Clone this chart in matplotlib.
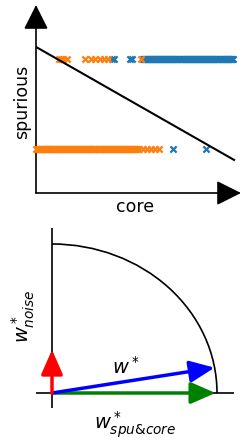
import matplotlib
matplotlib.use("Agg")
import matplotlib.pyplot as plt
from matplotlib.patches import Arc

BLUE = "#1f77b4"
ORANGE = "#ff7f0e"

# ---- data (top panel): core feature value, spurious feature value ----
top_orange_core = [0.11, 0.12, 0.13, 0.15, 0.24, 0.27, 0.29, 0.31, 0.33, 0.35, 0.51]
top_blue_core = [0.37, 0.38, 0.46, 0.47, 0.52, 0.525, 0.53, 0.535, 0.54, 0.545, 0.55,
                 0.555, 0.56, 0.565, 0.57, 0.575, 0.58, 0.585, 0.59, 0.595, 0.60, 0.605,
                 0.61, 0.615, 0.62, 0.625, 0.63, 0.635, 0.64, 0.645, 0.65, 0.655, 0.66,
                 0.665, 0.67, 0.675, 0.68, 0.685, 0.69, 0.695, 0.70, 0.705, 0.71, 0.715,
                 0.72, 0.725, 0.73, 0.735, 0.74, 0.745, 0.75, 0.755, 0.76, 0.765, 0.77,
                 0.775, 0.78, 0.785, 0.79, 0.795, 0.80, 0.805, 0.81, 0.815, 0.82, 0.825,
                 0.83, 0.835, 0.84, 0.845, 0.85, 0.855, 0.86, 0.865, 0.87, 0.875, 0.88,
                 0.885, 0.89, 0.895, 0.90, 0.905, 0.91, 0.915, 0.92, 0.925, 0.93, 0.935,
                 0.94, 0.945, 0.95, 0.955, 0.96]
bot_orange_core = [0.00, 0.005, 0.01, 0.015, 0.02, 0.025, 0.03, 0.035, 0.04, 0.045, 0.05,
                   0.055, 0.06, 0.065, 0.07, 0.075, 0.08, 0.085, 0.09, 0.095, 0.10, 0.105,
                   0.11, 0.115, 0.12, 0.125, 0.13, 0.135, 0.14, 0.145, 0.15, 0.155, 0.16,
                   0.165, 0.17, 0.175, 0.18, 0.185, 0.19, 0.195, 0.20, 0.205, 0.21, 0.215,
                   0.22, 0.225, 0.23, 0.235, 0.24, 0.245, 0.25, 0.255, 0.26, 0.265, 0.27,
                   0.275, 0.28, 0.285, 0.29, 0.295, 0.30, 0.305, 0.31, 0.315, 0.32, 0.325,
                   0.33, 0.335, 0.34, 0.345, 0.35, 0.355, 0.36, 0.365, 0.37, 0.375, 0.38,
                   0.385, 0.39, 0.395, 0.40, 0.405, 0.41, 0.415, 0.42, 0.425, 0.43, 0.435,
                   0.44, 0.445, 0.45, 0.455, 0.46, 0.465, 0.47, 0.475, 0.48, 0.485, 0.49,
                   0.495, 0.50, 0.52, 0.54, 0.56, 0.58, 0.60]
bot_blue_core = [0.67, 0.83]
spurious_high = 0.713
spurious_low = 0.234
boundary_x = [0.0, 0.966]
boundary_y = [0.777, 0.176]

# ---- data (bottom panel): weight vectors ----
w_noise = (0.0, 0.29)
w_star = (0.985, 0.17)
w_spu_core = (0.99, 0.0)

W, H = 249, 447
fig = plt.figure(figsize=(W / 100, H / 100), dpi=100)

def px_axes(x0, x1, ytop, ybot):
    return fig.add_axes([x0 / W, 1 - ybot / H, (x1 - x0) / W, (ybot - ytop) / H])

# ---------------- top panel ----------------
ax = px_axes(36, 241, 5, 193)
ax.set_xlim(0, 1)
ax.set_ylim(0, 1)
ax.axis("off")
for xy in [(0, 1), (1, 0)]:
    ax.annotate("", xy=xy, xytext=(0, 0), xycoords="data",
                arrowprops=dict(arrowstyle="-|>,head_length=0.8,head_width=0.4",
                                mutation_scale=19, lw=1.2, color="black",
                                shrinkA=0, shrinkB=0), annotation_clip=False)
mk = dict(marker="x", s=20, lw=1.6, clip_on=False)
ax.scatter(bot_orange_core, [spurious_low] * len(bot_orange_core), color=ORANGE, zorder=3, **mk)
ax.scatter(top_blue_core, [spurious_high] * len(top_blue_core), color=BLUE, zorder=3, **mk)
ax.scatter(bot_blue_core, [spurious_low] * len(bot_blue_core), color=BLUE, zorder=3, **mk)
ax.scatter(top_orange_core, [spurious_high] * len(top_orange_core), color=ORANGE, zorder=4, **mk)
ax.plot(boundary_x, boundary_y, color="black", lw=1.5, zorder=5)
fig.text(22 / W, 1 - 102 / H, "spurious", rotation=90, ha="center", va="center", fontsize=12.5)
fig.text(135 / W, 1 - 207 / H, "core", ha="center", va="center", fontsize=12.5)

# ---------------- bottom panel ----------------
bx = px_axes(36, 234, 228, 408)
bx.set_xlim(-16 / 165, 182 / 165)
bx.set_ylim(-15 / 149, 165 / 149)
bx.axis("off")
bx.plot([0, 0], [-15 / 149, 165 / 149], color="black", lw=1.2)
bx.plot([-16 / 165, 182 / 165], [0, 0], color="black", lw=1.2)
bx.add_patch(Arc((0, 0), 2, 2, theta1=0, theta2=90, color="black", lw=1.2))

for vec, col in [(w_spu_core, "green"), (w_star, "blue"), (w_noise, "red")]:
    bx.annotate("", xy=vec, xytext=(0, 0), xycoords="data",
                arrowprops=dict(arrowstyle="-|>,head_length=0.75,head_width=0.33",
                                mutation_scale=20, lw=2.5, color=col,
                                shrinkA=0, shrinkB=0), annotation_clip=False)

fig.text(126 / W, 1 - 367 / H, r"$w^*$", ha="center", va="center", fontsize=14)
fig.text(23 / W, 1 - 316 / H, r"$w^*_{noise}$", rotation=90, ha="center", va="center", fontsize=14)
fig.text(135 / W, 1 - 425 / H, r"$w^*_{spu&core}$", ha="center", va="center", fontsize=14)

fig.savefig("out.png", dpi=100)
